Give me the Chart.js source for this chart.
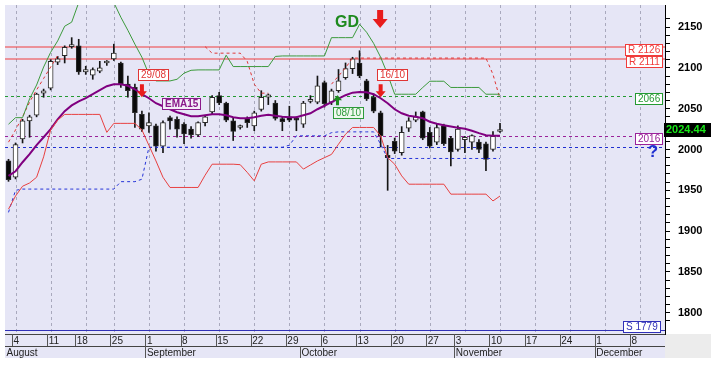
<!DOCTYPE html>
<html><head><meta charset="utf-8">
<script src="https://cdn.jsdelivr.net/npm/chart.js@4.4.0/dist/chart.umd.min.js"></script>
<style>html,body{margin:0;padding:0;background:#fff;}canvas{display:block;}</style>
</head><body>
<canvas id="c" width="711" height="368"></canvas>
<script>
// ---- categories: trading days (Aug 15 and Oct 28 closed) ----
const augDays=[1,4,5,6,7,8,11,12,13,14,18,19,20,21,22,25,26,27,28,29];
const sepDays=[1,2,3,4,5,8,9,10,11,12,15,16,17,18,19,22,23,24,25,26,29,30];
const octDays=[1,2,3,6,7,8,9,10,13,14,15,16,17,20,21,22,23,24,27,29,30,31];
const novDays=[3,4,5,6,7,10,11,12,13,14,17,18,19,20,21,24,25,26,27,28];
const decDays=[1,2,3,4,5,8,9,10,11,12];
const monthNames=['August','September','October','November','December'];
const year=2025;

// ---- OHLC ----
const opens=[1986,1966,2013,2035,2042,2069,2075,2107,2115,2126,2127,2095,2091,2096,2106,2111,2106,2080,2076,2043,2029,2029,2004,2039,2037,2031,2025,2018,2033,2046,2066,2057,2035,2027,2038,2029,2049,2064,2057,2038,2040,2038,2031,2059,2058,2082,2058,2072,2088,2099,2106,2084,2064,2045,1993,2010,1996,2026,2036,2046,2021,2009,2029,2014,2000,2012,2009,2009,2007,2000,2022];
const highs=[1988,2008,2037,2042,2069,2074,2110,2114,2127,2137,2135,2102,2100,2108,2109,2129,2107,2090,2080,2047,2045,2031,2035,2041,2040,2033,2028,2034,2042,2066,2070,2058,2039,2030,2040,2047,2072,2068,2060,2040,2053,2040,2059,2066,2090,2084,2074,2098,2106,2113,2121,2086,2068,2047,2005,2014,2028,2039,2046,2047,2027,2031,2031,2016,2029,2016,2018,2012,2009,2022,2032];
const lows=[1961,1964,2008,2015,2040,2064,2073,2104,2106,2124,2092,2092,2086,2094,2103,2109,2076,2064,2027,2022,2021,1998,1996,2025,2015,2007,2014,2016,2029,2044,2055,2034,2011,2025,2027,2023,2047,2055,2036,2023,2034,2023,2027,2057,2056,2052,2055,2070,2086,2093,2088,2060,2045,2003,1950,1995,1993,2022,2034,2012,2002,2006,2005,1980,1998,1996,2000,1996,1974,1998,2021];
const closes=[1963,2006,2035,2040,2068,2072,2108,2111,2125,2128,2095,2098,2098,2100,2107,2118,2080,2072,2045,2025,2033,2004,2033,2035,2025,2019,2018,2033,2040,2064,2057,2036,2022,2028,2033,2045,2064,2067,2038,2034,2036,2036,2057,2060,2078,2056,2072,2084,2099,2111,2090,2062,2047,2017,1990,1998,2021,2035,2040,2014,2004,2027,2007,1997,2025,2015,2017,2000,1988,2016,2024.44];

// ---- indicators ----
const ema15=[1967.7,1973.4,1984.4,1994.2,2005.3,2015,2024.9,2037,2047,2054,2059,2063,2067.7,2072.6,2077.5,2080,2080,2078,2073.8,2067.7,2062.8,2056.7,2053,2049.3,2045.7,2043.2,2040.8,2040.8,2042,2043.2,2043.2,2042,2039.5,2038.3,2038.3,2039.5,2041.4,2042.6,2041.4,2040.2,2039.5,2039.5,2042,2044.4,2049.3,2053.6,2057.9,2062.2,2066.5,2069.6,2070.5,2070.2,2067.7,2062.8,2056.7,2049.3,2044.4,2041.4,2040.2,2038.3,2034,2031.6,2029.8,2028.2,2026.7,2025.5,2023,2020,2017.5,2016.7,2016.7];
const upperBand=[2031,2039,2039,2062,2079,2101,2119,2133,2151,2156,2180,2180,2180,2180,2180,2180,2162,2146,2129,2113,2092,2084,2084,2084,2086,2093.5,2097,2097.5,2097.5,2097.5,2097.5,2115.5,2101.6,2101.6,2101.6,2101.6,2101.6,2101.6,2114,2114.6,2114.6,2114.6,2114.6,2114.6,2114.6,2114.6,2137,2137,2137,2137,2153.4,2143.6,2130,2113,2092,2067.7,2067.7,2067.7,2067.7,2076,2083.6,2083.6,2083.6,2076,2076,2076,2076,2076,2067.7,2067.7,2067.7];
const lowerBand=[1927,1943,1955,1959,1966,1991,2024,2036,2043,2043,2043,2043,2043,2043,2021,2032,2032,2032,2032,2024,2005,1986,1966,1953.5,1953.5,1953.5,1953.5,1953.5,1968.5,1982,1982,1982,1982,1981.4,1972,1961.6,1982,1984.8,1984.8,1984.8,1984.8,1984.8,1976,1981,1986,1990,1994,2006.5,2018.7,2027,2027,2027,2027,2016.7,1990,1982,1967.7,1957.5,1957.5,1957.5,1957.5,1957.5,1957.5,1945.3,1945.3,1945.3,1945.3,1945.3,1945.3,1937,1943];
const redStop=[2009,2024,2040,2058,2073,2087,2101,2115,null,null,null,null,null,null,null,null,null,null,null,null,null,null,null,null,null,null,null,null,2126,2118,2118,2118,2118,2118,2108,2080,2069,2069,null,null,null,null,null,null,null,null,2080,2090,2100,2112,2112,2112,2112,2112,2112,2112,2112,2112,2112,2112,2112,2112,2112,2112,2112,2112,2112,2112,2112,2092,2062];
const blueStop=[1923,1950,1951.5,1951.5,1951.5,1951.5,1951.5,1951.5,1951.5,1951.5,1951.5,1951.5,1951.5,1951.5,1951.5,1951.5,1960.6,1960.6,1960.6,1963.6,2002.8,2002.8,2002.8,2002.8,2002.8,2002.8,2002.8,2002.8,2002.8,2002.8,2002.8,2002.8,2002.8,2002.8,2002.8,2002.8,2002.8,2002.8,2002.8,2002.8,2005.3,2016.7,2016.7,2016.7,2016.7,2016.7,2020.6,2021.6,2021.6,2021.6,2021.6,2021.6,2021.6,2006.5,1989,1989,1989,1989,1989,1989,1989,1989,1989,1989,1989,1989,1989,1989,1989,1989,1989];

// ---- horizontal levels ----
const levelValues=[2126,2111,2066,2016,2002.5,1779];
const levelTexts=['R 2126','R 2111','2066','2016','?','S 1779'];
const lastPrice=2024.44;
// ---- signals ----
const signalIdx=[19,47,53];
const signalTexts=['29/08','08/10','16/10'];
const signalKinds=['sell','buy','sell'];

// build category list
const categories=[];
[augDays,sepDays,octDays,novDays,decDays].forEach((arr,mi)=>{
  arr.forEach(d=>categories.push(year+'-'+String(8+mi).padStart(2,'0')+'-'+String(d).padStart(2,'0')));
});
function parseCat(s){const p=s.split('-');return new Date(+p[0],+p[1]-1,+p[2]);}
const isMonday=categories.map(s=>parseCat(s).getDay()===1);
const monthStart=categories.map((s,i)=>i===0||s.slice(5,7)!==categories[i-1].slice(5,7));

const FONT='"Liberation Sans", Arial, sans-serif';
const NARROW='"Liberation Sans Narrow","Arial Narrow","Liberation Sans",Arial,sans-serif';

function arrow(ctx,x,yTip,dir,color,h,head,hw,sw){
  const yBase=yTip-dir*h, yNeck=yTip-dir*head;
  ctx.beginPath();
  ctx.moveTo(x-sw/2,yBase);ctx.lineTo(x+sw/2,yBase);ctx.lineTo(x+sw/2,yNeck);
  ctx.lineTo(x+hw/2,yNeck);ctx.lineTo(x,yTip);ctx.lineTo(x-hw/2,yNeck);
  ctx.lineTo(x-sw/2,yNeck);ctx.closePath();
  ctx.fillStyle=color;ctx.fill();
}
function tagBox(ctx,text,xLeft,yMid,col,fill,font){
  ctx.font=font||('10px '+FONT);
  const w=Math.round(ctx.measureText(text).width)+5, h=11;
  const x=Math.round(xLeft)+0.5, y=Math.round(yMid-h/2)+0.5;
  ctx.fillStyle=fill||'#fff';ctx.fillRect(x,y,w,h);
  ctx.strokeStyle=col;ctx.lineWidth=1;ctx.setLineDash([]);ctx.strokeRect(x,y,w,h);
  ctx.fillStyle=col;ctx.textBaseline='middle';ctx.textAlign='left';
  ctx.fillText(text,x+2.5,y+h/2+0.5);
  return w;
}

const levelColors=['#f03c3c','#f03c3c','#249a32','#9a229a','#1f2fd0','#3030b8'];
const levelDash=[[],[],[3,3],[3,3],[3,3],[]];

const paint={
  id:'paint',
  beforeDraw(chart){
    const {ctx,chartArea:a}=chart;const xs=chart.scales.x,x2=chart.scales.x2;
    ctx.save();
    ctx.fillStyle='#fff';ctx.fillRect(0,0,chart.width,chart.height);
    ctx.fillStyle='#e6e6f6';
    ctx.fillRect(a.left,a.top,a.right-a.left,a.bottom-a.top);
    ctx.fillRect(a.left,xs.top,a.right-a.left,x2.bottom-xs.top);
    ctx.fillStyle='#ececec';
    ctx.fillRect(a.right,xs.top,chart.width-a.right,x2.bottom-xs.top);
    ctx.restore();
  },
  beforeDatasetsDraw(chart){
    const {ctx,chartArea:a}=chart;const xs=chart.scales.x,ys=chart.scales.y;
    ctx.save();
    ctx.strokeStyle='#a9a9bd';ctx.lineWidth=1;ctx.setLineDash([3,3]);
    [1,6,11,15,20,25,30,35,40,45,50,55,60,65,70,75,80,85,90].forEach(i=>{
      const x=Math.round(xs.getPixelForValue(i))+0.5;
      ctx.beginPath();ctx.moveTo(x,a.top);ctx.lineTo(x,a.bottom);ctx.stroke();
    });
    levelValues.forEach((v,k)=>{
      const solidRed=k<2;
      const y=Math.round(ys.getPixelForValue(v))+(solidRed?0:0.5);
      ctx.setLineDash(levelDash[k]);ctx.strokeStyle=levelColors[k];ctx.lineWidth=solidRed?1.2:1;
      ctx.beginPath();ctx.moveTo(a.left,y);ctx.lineTo(a.right,y);ctx.stroke();
    });
    ctx.restore();
  },
  afterDatasetsDraw(chart){
    const {ctx,chartArea:a}=chart;const xs=chart.scales.x,ys=chart.scales.y;
    ctx.save();ctx.setLineDash([]);
    levelValues.forEach((v,k)=>{
      const y=ys.getPixelForValue(v);
      const t=levelTexts[k];
      if(t==='?'){
        ctx.font='bold 17px '+FONT;ctx.fillStyle='#1f2fd0';ctx.textAlign='center';ctx.textBaseline='top';
        ctx.fillText('?',a.right-12,y-4);return;
      }
      ctx.font='10px '+FONT;
      const w=Math.round(ctx.measureText(t).width)+5;
      const yMid=(k===5)?y-3:y+2.5;
      tagBox(ctx,t,a.right-(k===5?5:3)-w,yMid,levelColors[k],'#fff');
    });
    tagBox(ctx,'EMA15',xs.getPixelForValue(22)-1,ys.getPixelForValue(ema15[22])-3,'#8a1a8a','#f3eef8','bold 10px '+FONT);
    signalIdx.forEach((i,k)=>{
      const x=xs.getPixelForValue(i);
      if(signalKinds[k]==='sell'){
        const tip=ys.getPixelForValue(highs[i])-14;
        arrow(ctx,x,tip,1,'#e81c1c',13,6,10,4);
        tagBox(ctx,signalTexts[k],x-3.5,tip-22.5,'#e03535','#fff');
      }else{
        const tip=ys.getPixelForValue(lows[i])+3;
        arrow(ctx,x-1,tip,-1,'#1e8a1e',10,5,9,3);
        tagBox(ctx,signalTexts[k],x-6,tip+17,'#2e9a3a','#f0f8ee');
      }
    });
    ctx.font='bold 16px '+FONT;ctx.fillStyle='#1e8a1e';ctx.textAlign='center';ctx.textBaseline='alphabetic';
    ctx.fillText('GD',xs.getPixelForValue(48)+1.5,a.top+22);
    arrow(ctx,xs.getPixelForValue(53)-0.5,a.top+23,1,'#e81c1c',18,9,15,6);
    const yl=ys.getPixelForValue(lastPrice);
    ctx.fillStyle='#000';ctx.fillRect(a.right-1,Math.round(yl-7),chart.width-a.right+1,14);
    ctx.font='bold 11px '+FONT;ctx.fillStyle='#19e619';ctx.textAlign='left';ctx.textBaseline='middle';
    ctx.fillText(lastPrice.toFixed(2),a.right+1,yl+0.5);
    ctx.restore();
  },
  afterDraw(chart){
    const {ctx,chartArea:a}=chart;const xs=chart.scales.x,x2=chart.scales.x2;
    ctx.save();
    const half=(xs.getPixelForValue(1)-xs.getPixelForValue(0))/2;
    ctx.strokeStyle='#444';ctx.lineWidth=1;
    ctx.beginPath();
    ctx.moveTo(a.left,Math.round(xs.top)+0.5);ctx.lineTo(a.right,Math.round(xs.top)+0.5);
    ctx.moveTo(a.left,Math.round(xs.bottom)+0.5);ctx.lineTo(a.right,Math.round(xs.bottom)+0.5);
    ctx.stroke();
    ctx.strokeStyle='#555';
    ctx.beginPath();
    isMonday.forEach((m,i)=>{ if(!m)return;
      const x=Math.round(xs.getPixelForValue(i)-half)+0.5;
      ctx.moveTo(x,xs.top);ctx.lineTo(x,xs.bottom);});
    monthStart.forEach((m,i)=>{ if(!m||i===0)return;
      const x=Math.round(xs.getPixelForValue(i)-half)+0.5;
      ctx.moveTo(x,x2.top);ctx.lineTo(x,x2.bottom);});
    ctx.stroke();
    ctx.restore();
  }
};

const lineDs=(data,color,width,dash)=>({type:'line',data,borderColor:color,borderWidth:width,borderDash:dash||[],pointRadius:0,tension:0,spanGaps:false,order:0,fill:false});
const zeroPad=s=>{s.paddingTop=0;s.paddingBottom=0;s.paddingLeft=0;s.paddingRight=0;};

new Chart(document.getElementById('c'),{
  type:'bar',
  data:{labels:categories,datasets:[
    {type:'bar',data:lows.map((l,i)=>[l,highs[i]]),backgroundColor:'#151515',barThickness:1,grouped:false,order:3},
    {type:'bar',data:opens.map((o,i)=>[o,closes[i]]),
      backgroundColor:opens.map((o,i)=>closes[i]>=o?'#ffffff':'#0a0a0a'),
      borderColor:'#2a2a2a',borderWidth:1,borderSkipped:false,barThickness:5,grouped:false,minBarLength:2,order:2},
    lineDs(upperBand,'#3c9a3c',1),
    lineDs(lowerBand,'#e84040',1),
    lineDs(redStop,'#e03535',1,[3,3]),
    lineDs(blueStop,'#2533d8',1,[3,3]),
    lineDs(ema15,'#800080',2)
  ]},
  options:{
    responsive:false,animation:false,devicePixelRatio:1,
    layout:{padding:{left:5,top:5,right:0,bottom:10}},
    plugins:{legend:{display:false},tooltip:{enabled:false}},
    scales:{
      x:{type:'category',position:'bottom',offset:true,weight:0,
        grid:{display:false,offset:true},border:{display:false},
        ticks:{autoSkip:false,maxRotation:0,minRotation:0,align:'start',labelOffset:-2,padding:-7,
          color:'#222',font:{family:NARROW,size:10},
          callback:function(v,i){return isMonday[i]?String(+categories[i].slice(8,10)):null;}},
        afterFit:s=>{s.height=12;zeroPad(s);}},
      x2:{type:'category',position:'bottom',offset:true,weight:1,
        grid:{display:false,offset:true},border:{display:false},
        ticks:{autoSkip:false,maxRotation:0,minRotation:0,align:'start',labelOffset:-2,padding:-7,
          color:'#222',font:{family:NARROW,size:10},
          callback:function(v,i){return monthStart[i]?monthNames[+categories[i].slice(5,7)-8]:null;}},
        afterFit:s=>{s.height=12;zeroPad(s);}},
      y:{type:'linear',position:'right',min:1774,max:2177,
        grid:{drawOnChartArea:false,drawTicks:true,tickLength:5,color:'#000'},
        border:{display:true,color:'#000',width:1},
        ticks:{stepSize:10,autoSkip:false,padding:8,color:'#000',font:{family:FONT,size:11,weight:'bold'},
          callback:v=>(v%50===0?String(v):'')},
        afterBuildTicks:s=>{s.ticks=s.ticks.filter(t=>t.value%10===0);},
        afterFit:s=>{s.width=46;zeroPad(s);}}
    }
  },
  plugins:[paint]
});
</script>
</body></html>
